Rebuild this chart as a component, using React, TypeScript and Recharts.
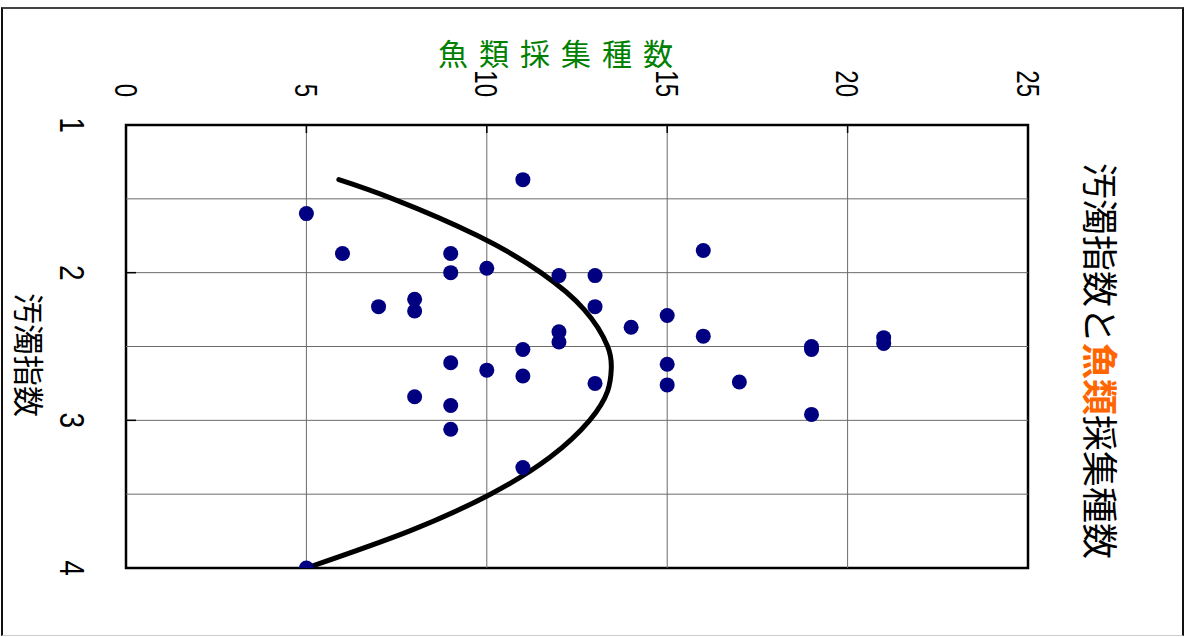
import { ComposedChart, Scatter, Line, XAxis, YAxis, ReferenceLine, ReferenceArea } from "recharts";

// 汚濁指数 (x) と 魚類採集種数 (y)
const POLLUTION_INDEX = [1.37, 1.6, 1.87, 1.87, 1.85, 2.0, 1.97, 2.02, 2.02, 2.23, 2.18, 2.26, 2.23, 2.29, 2.4, 2.47, 2.37, 2.43, 2.44, 2.48, 2.5, 2.52, 2.52, 2.61, 2.66, 2.7, 2.62, 2.76, 2.75, 2.74, 2.84, 2.9, 2.96, 3.06, 3.32, 4.0];
const FISH_SPECIES = [11, 5, 6, 9, 16, 9, 10, 12, 13, 7, 8, 8, 13, 15, 12, 12, 14, 16, 21, 21, 19, 19, 11, 9, 10, 11, 15, 15, 13, 17, 8, 9, 19, 9, 11, 5];

// trend curve
const CURVE_INDEX = [1.37, 1.5, 1.75, 2.0, 2.25, 2.5, 2.65, 2.8, 3.0, 3.25, 3.5, 3.75, 4.0];
const CURVE_FISH = [5.9, 7.4, 9.75, 11.5, 12.7, 13.35, 13.45, 13.35, 12.85, 11.75, 10.1, 7.85, 5.0];

const X_TICKS = [1, 2, 3, 4];
const Y_TICKS = [0, 5, 10, 15, 20, 25];
const X_GRID = [1.5, 2, 2.5, 3, 3.5];
const Y_GRID = [5, 10, 15, 20];

const points = POLLUTION_INDEX.map((x, i) => ({ x, y: FISH_SPECIES[i] }));
const curve = CURVE_INDEX.map((x, i) => ({ x, y: CURVE_FISH[i] }));

const DIGIT_FONT = "'Liberation Sans', Arial, sans-serif";
const CJK_FONT = "'Noto Sans CJK JP', sans-serif";

const XTick = ({ x, y, payload }: any) => (
  <g transform={`translate(${x},${y}) scale(0.8,1)`}>
    <text x={0} y={0} textAnchor="middle" dominantBaseline="central" fontSize={35} fontFamily={DIGIT_FONT} fill="#000">
      {payload.value}
    </text>
  </g>
);

const YTick = ({ x, y, payload }: any) => (
  <g transform={`translate(${x},${y}) scale(0.75,1)`}>
    <text x={0} y={0} textAnchor="end" dominantBaseline="central" fontSize={32} fontFamily={DIGIT_FONT} fill="#000">
      {payload.value}
    </text>
  </g>
);

const Dot = ({ cx, cy }: any) => <circle cx={cx} cy={cy} r={7.5} fill="#000080" />;

export default function App() {
  return (
    <div style={{ position: "absolute", left: 0, top: 0, width: 1186, height: 637, background: "#fff", overflow: "hidden" }}>
      {/* chart drawn upright, then turned a quarter clockwise */}
      <div
        style={{
          position: "absolute",
          left: 0,
          top: 0,
          width: 637,
          height: 1186,
          transformOrigin: "0 0",
          transform: "translateX(1186px) rotate(90deg)",
        }}
      >
        <ComposedChart width={637} height={1186} margin={{ top: 158, right: 69, bottom: 66, left: 65 }}>
          <XAxis
            dataKey="x"
            type="number"
            domain={[1, 4]}
            ticks={X_TICKS}
            height={60}
            axisLine={false}
            tickSize={-10}
            tickMargin={64}
            tickLine={{ stroke: "#000", strokeWidth: 1.5 }}
            tick={<XTick />}
            allowDataOverflow
          />
          <YAxis
            dataKey="y"
            type="number"
            domain={[0, 25]}
            ticks={Y_TICKS}
            width={60}
            axisLine={false}
            tickSize={-8}
            tickMargin={36}
            tickLine={{ stroke: "#000", strokeWidth: 1.5 }}
            tick={<YTick />}
            allowDataOverflow
          />
          {X_GRID.map((v) => (
            <ReferenceLine key={`gx${v}`} x={v} stroke="#6a6a6a" strokeWidth={1} />
          ))}
          {Y_GRID.map((v) => (
            <ReferenceLine key={`gy${v}`} y={v} stroke="#6a6a6a" strokeWidth={1} />
          ))}
          <ReferenceArea x1={1} x2={4} y1={0} y2={25} fill="none" stroke="#000" strokeWidth={2.5} />
          <Line data={curve} dataKey="y" type="natural" stroke="#000" strokeWidth={5} strokeLinecap="round" dot={false} isAnimationActive={false} />
          <Scatter data={points} dataKey="y" shape={<Dot />} isAnimationActive={false} />
        </ComposedChart>
        <div
          style={{
            position: "absolute",
            left: 361,
            top: 84,
            transform: "translate(-50%, -50%)",
            whiteSpace: "nowrap",
            fontFamily: CJK_FONT,
            fontSize: 36,
            lineHeight: 1,
            color: "#000",
          }}
        >
          汚濁指数と<span style={{ color: "#ff6600", fontWeight: 700 }}>魚類</span>採集種数
        </div>
        <div
          style={{
            position: "absolute",
            left: 355,
            top: 1156,
            transform: "translate(-50%, -50%)",
            whiteSpace: "nowrap",
            fontFamily: CJK_FONT,
            fontSize: 31,
            lineHeight: 1,
            color: "#000",
          }}
        >
          汚濁指数
        </div>
      </div>
      <div
        style={{
          position: "absolute",
          left: 438,
          top: 37,
          whiteSpace: "nowrap",
          fontFamily: CJK_FONT,
          fontSize: 30,
          lineHeight: 1,
          letterSpacing: 11,
          color: "#008000",
        }}
      >
        魚類採集種数
      </div>
      <div
        style={{
          position: "absolute",
          left: 1,
          top: 7,
          width: 1179,
          height: 626,
          borderLeft: "2px solid #111",
          borderTop: "2px solid #444",
          borderRight: "2px solid #111",
          borderBottom: "1px solid #ccc",
          pointerEvents: "none",
        }}
      />
    </div>
  );
}
